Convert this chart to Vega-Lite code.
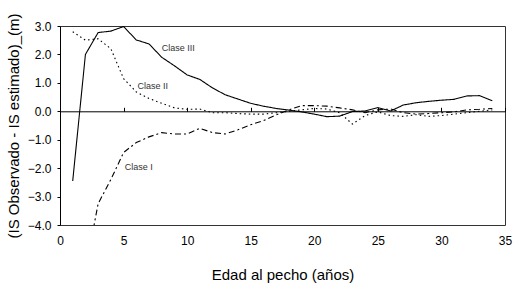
{
  "$schema": "https://vega.github.io/schema/vega-lite/v6.json",
  "width": 445,
  "height": 199,
  "autosize": {"type": "none"},
  "padding": {"left": 60, "top": 26, "right": 8, "bottom": 59},
  "background": "white",
  "config": {
    "font": "Liberation Sans",
    "view": {"stroke": "#333333", "strokeWidth": 1},
    "axis": {"grid": false, "labelColor": "#000000", "titleColor": "#000000", "labelFont": "Liberation Sans", "titleFont": "Liberation Sans", "titleFontWeight": "normal"}
  },
  "datasets": {
    "series": [
      {"edad": 1, "clase": "Clase III", "v": -2.45},
      {"edad": 2, "clase": "Clase III", "v": 2.0},
      {"edad": 3, "clase": "Clase III", "v": 2.77},
      {"edad": 4, "clase": "Clase III", "v": 2.82},
      {"edad": 5, "clase": "Clase III", "v": 2.98},
      {"edad": 6, "clase": "Clase III", "v": 2.51},
      {"edad": 7, "clase": "Clase III", "v": 2.37},
      {"edad": 8, "clase": "Clase III", "v": 1.9},
      {"edad": 9, "clase": "Clase III", "v": 1.6},
      {"edad": 10, "clase": "Clase III", "v": 1.28},
      {"edad": 11, "clase": "Clase III", "v": 1.12},
      {"edad": 12, "clase": "Clase III", "v": 0.82},
      {"edad": 13, "clase": "Clase III", "v": 0.58},
      {"edad": 14, "clase": "Clase III", "v": 0.43},
      {"edad": 15, "clase": "Clase III", "v": 0.28},
      {"edad": 16, "clase": "Clase III", "v": 0.18},
      {"edad": 17, "clase": "Clase III", "v": 0.1},
      {"edad": 18, "clase": "Clase III", "v": 0.04},
      {"edad": 19, "clase": "Clase III", "v": -0.02},
      {"edad": 20, "clase": "Clase III", "v": -0.1},
      {"edad": 21, "clase": "Clase III", "v": -0.19},
      {"edad": 22, "clase": "Clase III", "v": -0.17},
      {"edad": 23, "clase": "Clase III", "v": -0.01},
      {"edad": 24, "clase": "Clase III", "v": 0.01},
      {"edad": 25, "clase": "Clase III", "v": 0.13},
      {"edad": 26, "clase": "Clase III", "v": 0.01},
      {"edad": 27, "clase": "Clase III", "v": 0.22},
      {"edad": 28, "clase": "Clase III", "v": 0.3},
      {"edad": 29, "clase": "Clase III", "v": 0.35},
      {"edad": 30, "clase": "Clase III", "v": 0.39},
      {"edad": 31, "clase": "Clase III", "v": 0.42},
      {"edad": 32, "clase": "Clase III", "v": 0.54},
      {"edad": 33, "clase": "Clase III", "v": 0.55},
      {"edad": 34, "clase": "Clase III", "v": 0.37},
      {"edad": 1, "clase": "Clase II", "v": 2.8},
      {"edad": 2, "clase": "Clase II", "v": 2.5},
      {"edad": 3, "clase": "Clase II", "v": 2.55},
      {"edad": 4, "clase": "Clase II", "v": 2.2},
      {"edad": 5, "clase": "Clase II", "v": 1.15},
      {"edad": 6, "clase": "Clase II", "v": 0.68},
      {"edad": 7, "clase": "Clase II", "v": 0.45},
      {"edad": 8, "clase": "Clase II", "v": 0.28},
      {"edad": 9, "clase": "Clase II", "v": 0.12},
      {"edad": 10, "clase": "Clase II", "v": 0.07},
      {"edad": 11, "clase": "Clase II", "v": 0.08},
      {"edad": 12, "clase": "Clase II", "v": -0.05},
      {"edad": 13, "clase": "Clase II", "v": -0.05},
      {"edad": 14, "clase": "Clase II", "v": -0.08},
      {"edad": 15, "clase": "Clase II", "v": -0.1},
      {"edad": 16, "clase": "Clase II", "v": -0.1},
      {"edad": 17, "clase": "Clase II", "v": -0.05},
      {"edad": 18, "clase": "Clase II", "v": 0.0},
      {"edad": 19, "clase": "Clase II", "v": 0.05},
      {"edad": 20, "clase": "Clase II", "v": 0.1},
      {"edad": 21, "clase": "Clase II", "v": 0.08},
      {"edad": 22, "clase": "Clase II", "v": -0.05},
      {"edad": 23, "clase": "Clase II", "v": -0.45},
      {"edad": 24, "clase": "Clase II", "v": -0.15},
      {"edad": 25, "clase": "Clase II", "v": -0.02},
      {"edad": 26, "clase": "Clase II", "v": -0.15},
      {"edad": 27, "clase": "Clase II", "v": -0.18},
      {"edad": 28, "clase": "Clase II", "v": -0.12},
      {"edad": 29, "clase": "Clase II", "v": -0.18},
      {"edad": 30, "clase": "Clase II", "v": -0.15},
      {"edad": 31, "clase": "Clase II", "v": -0.1},
      {"edad": 32, "clase": "Clase II", "v": -0.05},
      {"edad": 33, "clase": "Clase II", "v": 0.0},
      {"edad": 34, "clase": "Clase II", "v": 0.05},
      {"edad": 2, "clase": "Clase I", "v": -5.6},
      {"edad": 3, "clase": "Clase I", "v": -3.25},
      {"edad": 4, "clase": "Clase I", "v": -2.4},
      {"edad": 5, "clase": "Clase I", "v": -1.45},
      {"edad": 6, "clase": "Clase I", "v": -1.1},
      {"edad": 7, "clase": "Clase I", "v": -0.9},
      {"edad": 8, "clase": "Clase I", "v": -0.75},
      {"edad": 9, "clase": "Clase I", "v": -0.8},
      {"edad": 10, "clase": "Clase I", "v": -0.8},
      {"edad": 11, "clase": "Clase I", "v": -0.6},
      {"edad": 12, "clase": "Clase I", "v": -0.75},
      {"edad": 13, "clase": "Clase I", "v": -0.8},
      {"edad": 14, "clase": "Clase I", "v": -0.65},
      {"edad": 15, "clase": "Clase I", "v": -0.47},
      {"edad": 16, "clase": "Clase I", "v": -0.33},
      {"edad": 17, "clase": "Clase I", "v": -0.13},
      {"edad": 18, "clase": "Clase I", "v": 0.05},
      {"edad": 19, "clase": "Clase I", "v": 0.2},
      {"edad": 20, "clase": "Clase I", "v": 0.2},
      {"edad": 21, "clase": "Clase I", "v": 0.18},
      {"edad": 22, "clase": "Clase I", "v": 0.12},
      {"edad": 23, "clase": "Clase I", "v": 0.05},
      {"edad": 24, "clase": "Clase I", "v": -0.05},
      {"edad": 25, "clase": "Clase I", "v": 0.05},
      {"edad": 26, "clase": "Clase I", "v": 0.08},
      {"edad": 27, "clase": "Clase I", "v": -0.05},
      {"edad": 28, "clase": "Clase I", "v": -0.1},
      {"edad": 29, "clase": "Clase I", "v": -0.08},
      {"edad": 30, "clase": "Clase I", "v": -0.05},
      {"edad": 31, "clase": "Clase I", "v": -0.02},
      {"edad": 32, "clase": "Clase I", "v": 0.05},
      {"edad": 33, "clase": "Clase I", "v": 0.07},
      {"edad": 34, "clase": "Clase I", "v": 0.1}
    ],
    "labels": [
      {"edad": 8.0, "v": 2.24, "texto": "Clase III"},
      {"edad": 6.1, "v": 0.9, "texto": "Clase II"},
      {"edad": 5.1, "v": -1.95, "texto": "Clase I"}
    ]
  },
  "resolve": {"axis": {"x": "independent"}},
  "layer": [
    {
      "data": {"name": "series"},
      "mark": {"type": "line", "clip": true, "color": "#000000", "strokeWidth": 1.1},
      "encoding": {
        "x": {
          "field": "edad", "type": "quantitative",
          "scale": {"domain": [0, 35], "nice": false, "zero": false},
          "axis": {"orient": "bottom", "title": "Edad al pecho (años)", "values": [0, 5, 10, 15, 20, 25, 30, 35], "domain": false, "ticks": false, "labelPadding": 10, "labelFontSize": 12, "titleFontSize": 15, "titlePadding": 21, "labelFlush": false}
        },
        "y": {
          "field": "v", "type": "quantitative",
          "scale": {"domain": [-4, 3], "nice": false, "zero": false},
          "axis": {"title": "(IS Observado - IS estimado)_(m)", "values": [-4, -3, -2, -1, 0, 1, 2, 3], "format": ".1f", "domain": true, "domainColor": "#000000", "ticks": true, "tickSize": 3, "tickColor": "#000000", "labelPadding": 6, "labelFontSize": 12, "titleFontSize": 15, "titlePadding": 6, "labelFlush": false}
        },
        "strokeDash": {
          "field": "clase", "type": "nominal",
          "scale": {"domain": ["Clase I", "Clase II", "Clase III"], "range": [[6, 3, 2, 3], [1.5, 3], [1, 0]]},
          "legend": null
        },
        "detail": {"field": "clase"}
      }
    },
    {
      "data": {"name": "labels"},
      "mark": {"type": "text", "align": "left", "baseline": "middle", "fontSize": 9, "color": "#333333", "font": "Liberation Sans"},
      "encoding": {
        "x": {
          "field": "edad", "type": "quantitative",
          "axis": {"orient": "bottom", "title": null, "labels": false, "values": [0, 5, 10, 15, 20, 25, 30, 35], "domain": true, "domainColor": "#000000", "ticks": true, "tickSize": -4, "tickColor": "#000000", "offset": -113.7}
        },
        "y": {
          "field": "v", "type": "quantitative",
          "axis": {"title": "(IS Observado - IS estimado)_(m)", "values": [-4, -3, -2, -1, 0, 1, 2, 3], "format": ".1f", "domain": true, "domainColor": "#000000", "ticks": true, "tickSize": 3, "tickColor": "#000000", "labelPadding": 6, "labelFontSize": 12, "titleFontSize": 15, "titlePadding": 6, "labelFlush": false}
        },
        "text": {"field": "texto"}
      }
    }
  ]
}
